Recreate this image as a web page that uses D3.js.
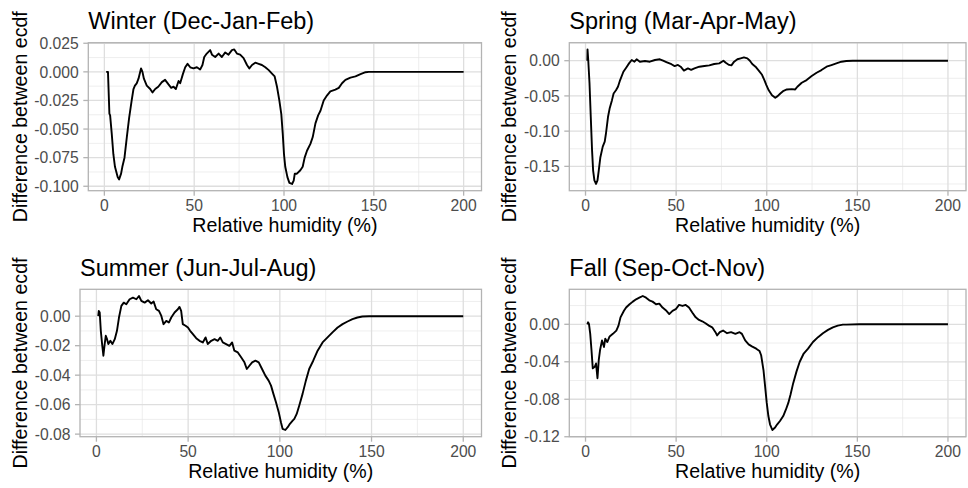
<!DOCTYPE html>
<html>
<head>
<meta charset="utf-8">
<script src="https://cdn.jsdelivr.net/npm/d3@7"></script>
<style>
  html, body { margin: 0; padding: 0; background: #ffffff; }
  svg { display: block; font-family: "Liberation Sans", Arial, Helvetica, sans-serif; }
</style>
</head>
<body>
<svg id="chart" width="968" height="488"></svg>
<script>
// ---------------- DATA ----------------
const seasonTitles = ["Winter (Dec-Jan-Feb)", "Spring (Mar-Apr-May)", "Summer (Jun-Jul-Aug)", "Fall (Sep-Oct-Nov)"];
const xAxisTitle = "Relative humidity (%)";
const yAxisTitle = "Difference between ecdf";

const xTickValues = [0, 50, 100, 150, 200];
const xTickLabels = ["0", "50", "100", "150", "200"];

const winterTicks = [0.025, 0, -0.025, -0.05, -0.075, -0.1];
const winterTickLabels = ["0.025", "0.000", "-0.025", "-0.050", "-0.075", "-0.100"];
const springTicks = [0, -0.05, -0.1, -0.15];
const springTickLabels = ["0.00", "-0.05", "-0.10", "-0.15"];
const summerTicks = [0, -0.02, -0.04, -0.06, -0.08];
const summerTickLabels = ["0.00", "-0.02", "-0.04", "-0.06", "-0.08"];
const fallTicks = [0, -0.04, -0.08, -0.12];
const fallTickLabels = ["0.00", "-0.04", "-0.08", "-0.12"];

// [relative humidity, difference between ecdf]
const winterData = [
  [1,0],[2,0],[2.8,-0.0366],[3.2,-0.038],[4.1,-0.054],[5,-0.072],[5.9,-0.083],[7.4,-0.092],[8.2,-0.094],
  [9.3,-0.089],[10,-0.083],[11.2,-0.075],[12.5,-0.057],[13.8,-0.040],[15.2,-0.025],[16.2,-0.015],[17,-0.012],
  [18,-0.010],[19,-0.006],[20.4,0.003],[21.2,0],[22,-0.006],[23.6,-0.012],[25.5,-0.015],[26.8,-0.018],
  [28.3,-0.015],[30,-0.013],[32,-0.009],[33.8,-0.007],[35.7,-0.011],[37.2,-0.014],[38.5,-0.013],[39.8,-0.015],
  [41.3,-0.008],[42.2,-0.010],[43.7,-0.002],[45,0.004],[46.3,0.007],[47.8,0.004],[49.6,0.003],[51.5,0.004],
  [53.3,0.002],[54.6,0.006],[55.6,0.013],[57,0.016],[58.9,0.019],[59.9,0.015],[61.7,0.013],[63.6,0.016],
  [65.4,0.013],[67.3,0.017],[69.1,0.015],[71,0.019],[72.3,0.0196],[73.8,0.016],[75.6,0.015],[77.5,0.012],
  [79.4,0.006],[80.7,0.003],[82.2,0.006],[84,0.008],[85.9,0.007],[87.7,0.006],[89.6,0.004],[91.5,0.0015],
  [93.3,-0.0015],[94.8,-0.004],[96.1,-0.013],[97.4,-0.025],[98.5,-0.037],[99.3,-0.054],[100,-0.072],
  [100.7,-0.083],[101.9,-0.092],[103,-0.097],[104.5,-0.098],[105.4,-0.095],[106,-0.089],[107.2,-0.089],
  [109.1,-0.086],[110.4,-0.083],[111.5,-0.075],[112.8,-0.069],[114.7,-0.063],[116,-0.057],[117.5,-0.045],
  [119,-0.038],[120.3,-0.034],[122.1,-0.025],[124,-0.0205],[125.8,-0.017],[128.6,-0.0155],[130.5,-0.014],
  [132.3,-0.010],[134.2,-0.007],[137,-0.005],[139.8,-0.004],[142.6,-0.002],[145.4,-0.0003],[147.2,0],[200,0]
];

const springData = [
  [1,0],[1.1,0.016],[1.5,0.001],[2.2,-0.032],[2.9,-0.080],[3.6,-0.127],[4.2,-0.156],[4.9,-0.170],[5.8,-0.175],
  [6.6,-0.170],[7.3,-0.156],[8.2,-0.137],[9.5,-0.122],[10.6,-0.115],[11.3,-0.103],[12.4,-0.080],[13.3,-0.068],
  [14.6,-0.056],[15.5,-0.0465],[16.8,-0.042],[17.9,-0.037],[19.1,-0.0275],[20.9,-0.0157],[22.8,-0.0085],
  [24,-0.0038],[25.5,0.001],[27,-0.0014],[28.2,0.002],[30,-0.0014],[32.8,-0.0005],[35.5,-0.0014],[38.3,0.001],
  [41,0.002],[42.8,0],[44.6,-0.002],[47.4,-0.005],[49.2,-0.0076],[51,-0.006],[52.5,-0.0085],[54.3,-0.014],
  [56.5,-0.011],[58.3,-0.013],[60.1,-0.011],[62.8,-0.0085],[65.6,-0.0076],[68.3,-0.0066],[71,-0.0047],
  [73.8,-0.0038],[76.1,0],[77.4,-0.003],[79.2,-0.006],[80.5,-0.0066],[82,-0.0014],[83.8,0.002],[85.6,0.0033],
  [87.4,0.0047],[89.3,0.0033],[90.7,0],[92,-0.0047],[93.8,-0.0085],[95.6,-0.014],[97.4,-0.020],[98.7,-0.0275],
  [99.8,-0.0346],[101.1,-0.042],[102.9,-0.049],[104.7,-0.0527],[106,-0.0503],[107.5,-0.0465],[109.3,-0.0427],
  [111.1,-0.0408],[113.8,-0.0403],[115.7,-0.0408],[116.9,-0.037],[119.3,-0.0313],[122,-0.0275],[124.8,-0.0218],
  [127.5,-0.0171],[130.2,-0.0133],[133,-0.0085],[135.7,-0.0062],[138.4,-0.0038],[141.2,-0.0014],
  [143.9,-0.0005],[147.5,0],[200,0]
];

const summerData = [
  [1,0],[1.3,0.0036],[1.8,0.0025],[2.4,-0.0099],[3.1,-0.0189],[3.8,-0.0268],[4.5,-0.0189],[5.1,-0.0133],
  [5.8,-0.0156],[6.5,-0.0189],[7.6,-0.0167],[8.7,-0.0189],[10,-0.0156],[11.2,-0.0099],[12.3,-0.0009],
  [13.6,0.007],[14.9,0.0092],[16.3,0.0081],[18.1,0.0115],[19.9,0.0126],[21.8,0.0115],[23.2,0.0137],
  [24.5,0.0104],[26.3,0.0092],[28.1,0.0108],[29.9,0.0086],[31.2,0.0099],[32.6,0.0047],[34.1,0.0036],
  [35.4,0.0002],[36.6,-0.0054],[38.1,-0.0032],[39.5,-0.0043],[40.8,-0.0009],[42.6,0.0025],[44.4,0.0047],
  [45.3,0.0063],[46.2,0.0036],[47.1,-0.0054],[48.6,-0.0065],[49.9,-0.0077],[51.1,-0.0099],[52.6,-0.0122],
  [54.4,-0.0149],[56.2,-0.0167],[58,-0.0178],[59.5,-0.0144],[60.7,-0.0189],[62.6,-0.0167],[64.4,-0.0156],
  [66.2,-0.0167],[67.5,-0.0144],[68.9,-0.0178],[70.7,-0.0189],[72.5,-0.0201],[74,-0.0178],[75.2,-0.0234],
  [77.1,-0.0246],[78.9,-0.0279],[80.7,-0.0313],[82,-0.0358],[83.4,-0.0336],[84.9,-0.0313],[86.7,-0.0302],
  [88.5,-0.0313],[90.3,-0.0358],[92.1,-0.0403],[93.9,-0.0437],[95.2,-0.0471],[96.5,-0.0527],[97.9,-0.0584],
  [99.4,-0.0651],[100.6,-0.0719],[101.5,-0.0764],[103,-0.0772],[104.3,-0.0753],[105.5,-0.073],[107,-0.0708],
  [107.9,-0.0696],[109.2,-0.0663],[110.6,-0.0606],[112.4,-0.0527],[114.2,-0.0437],[116,-0.0358],
  [118.2,-0.0302],[120.6,-0.0234],[123.3,-0.0178],[126,-0.0144],[128.7,-0.011],[131.5,-0.0077],
  [134.2,-0.0054],[136.9,-0.0036],[139.6,-0.002],[142.3,-0.0009],[145,-0.0002],[148.7,0],[200,0]
];

const fallData = [
  [1,0],[1.4,0.0021],[1.9,0.0004],[2.6,-0.0102],[3.3,-0.0277],[4,-0.047],[5.1,-0.0453],[5.8,-0.0418],
  [6.6,-0.0575],[7.3,-0.0382],[8,-0.0277],[9.1,-0.0172],[10.2,-0.0242],[10.9,-0.0154],[12,-0.0189],
  [13.3,-0.013],[15.1,-0.0102],[17,-0.0067],[18.2,-0.0014],[19.3,0.0074],[21.2,0.0144],[22.4,0.0179],
  [24.3,0.0214],[26.1,0.0242],[27.9,0.0267],[29.7,0.0284],[31.6,0.0302],[33.4,0.0284],[35.2,0.0256],
  [37,0.0242],[38.9,0.0214],[40.7,0.0221],[42.5,0.0179],[44.3,0.0151],[46.2,0.0109],[48,0.0144],[49.8,0.0161],
  [51.6,0.0207],[53.5,0.0196],[55.3,0.0207],[57.1,0.0179],[58.9,0.0126],[60.8,0.0074],[62.6,0.0046],
  [64.4,0.0032],[66.2,0.0011],[68.1,-0.0014],[69.9,-0.0032],[71.7,-0.0084],[72.6,-0.0119],[74.1,-0.0084],
  [75.9,-0.0067],[78.1,-0.0095],[80.3,-0.0084],[82.7,-0.0102],[85,-0.0084],[86.3,-0.0102],[88.1,-0.0172],
  [90,-0.0214],[91.8,-0.0235],[94.2,-0.026],[96,-0.0284],[96.9,-0.033],[98.2,-0.0488],[99.1,-0.0663],
  [100,-0.0839],[100.9,-0.0979],[101.8,-0.1067],[103.1,-0.1128],[104.6,-0.1102],[105.8,-0.1067],
  [107.3,-0.1032],[109.1,-0.0979],[110.6,-0.0909],[111.9,-0.0839],[113.1,-0.0751],[114.6,-0.0628],
  [116.4,-0.0505],[118.2,-0.04],[120.4,-0.0312],[122.8,-0.026],[125.5,-0.0189],[128.3,-0.0137],[131,-0.0095],
  [133.8,-0.006],[136.5,-0.0032],[139.2,-0.0014],[142,-0.0004],[143.8,-0.0004],[151,0],[200,0]
];

// ---------------- LAYOUT ----------------
const panels = [
  { title: seasonTitles[0], data: winterData, ticks: winterTicks, labels: winterTickLabels,
    box: { left: 88.3, right: 481.5, top: 42.7, bottom: 190.7 }, titleY: 29, yTitleX: 26.5 },
  { title: seasonTitles[1], data: springData, ticks: springTicks, labels: springTickLabels,
    box: { left: 569.3, right: 966, top: 42.7, bottom: 190.7 }, titleY: 29, yTitleX: 516 },
  { title: seasonTitles[2], data: summerData, ticks: summerTicks, labels: summerTickLabels,
    box: { left: 80, right: 481.5, top: 289.3, bottom: 436.7 }, titleY: 276, yTitleX: 26.5 },
  { title: seasonTitles[3], data: fallData, ticks: fallTicks, labels: fallTickLabels,
    box: { left: 569.3, right: 966, top: 289.3, bottom: 436.7 }, titleY: 276, yTitleX: 516 }
];

const svg = d3.select("#chart");

function expand(ext) {
  const pad = (ext[1] - ext[0]) * 0.05;
  return [ext[0] - pad, ext[1] + pad];
}
function minorTicks(major, domain) {
  const s = Math.abs(major[1] - major[0]);
  const lo = d3.min(major), hi = d3.max(major);
  const out = [];
  for (let v = lo - s / 2; v <= hi + s / 2 + 1e-12; v += s) {
    if (v >= domain[0] && v <= domain[1]) out.push(v);
  }
  return out;
}

panels.forEach(p => {
  const b = p.box;
  const x = d3.scaleLinear().domain(expand(d3.extent(p.data, d => d[0]))).range([b.left, b.right]);
  const y = d3.scaleLinear().domain(expand(d3.extent(p.data, d => d[1]))).range([b.bottom, b.top]);
  const g = svg.append("g");

  // minor grid
  const xMinor = minorTicks(xTickValues, x.domain());
  const yMinor = minorTicks(p.ticks, y.domain());
  g.selectAll(null).data(xMinor).join("line")
    .attr("x1", d => x(d)).attr("x2", d => x(d)).attr("y1", b.top).attr("y2", b.bottom)
    .attr("stroke", "#e6e6e6").attr("stroke-width", 0.7);
  g.selectAll(null).data(yMinor).join("line")
    .attr("y1", d => y(d)).attr("y2", d => y(d)).attr("x1", b.left).attr("x2", b.right)
    .attr("stroke", "#e6e6e6").attr("stroke-width", 0.7);
  // major grid
  g.selectAll(null).data(xTickValues).join("line")
    .attr("x1", d => x(d)).attr("x2", d => x(d)).attr("y1", b.top).attr("y2", b.bottom)
    .attr("stroke", "#dedede").attr("stroke-width", 1.3);
  g.selectAll(null).data(p.ticks).join("line")
    .attr("y1", d => y(d)).attr("y2", d => y(d)).attr("x1", b.left).attr("x2", b.right)
    .attr("stroke", "#dedede").attr("stroke-width", 1.3);

  // data line
  const line = d3.line().x(d => x(d[0])).y(d => y(d[1]));
  g.append("path").datum(p.data).attr("d", line)
    .attr("fill", "none").attr("stroke", "#000000").attr("stroke-width", 1.9)
    .attr("stroke-linejoin", "round");

  // panel border
  g.append("rect").attr("x", b.left).attr("y", b.top)
    .attr("width", b.right - b.left).attr("height", b.bottom - b.top)
    .attr("fill", "none").attr("stroke", "#b3b3b3").attr("stroke-width", 1.3);

  // x axis ticks + labels
  g.selectAll(null).data(xTickValues).join("line")
    .attr("x1", d => x(d)).attr("x2", d => x(d)).attr("y1", b.bottom).attr("y2", b.bottom + 5)
    .attr("stroke", "#b3b3b3").attr("stroke-width", 1.3);
  g.selectAll(null).data(xTickValues).join("text")
    .attr("x", d => x(d)).attr("y", b.bottom + 20.5)
    .attr("text-anchor", "middle").attr("font-size", 15.7).attr("fill", "#4d4d4d")
    .text((d, i) => xTickLabels[i]);

  // y axis ticks + labels
  g.selectAll(null).data(p.ticks).join("line")
    .attr("y1", d => y(d)).attr("y2", d => y(d)).attr("x1", b.left - 5).attr("x2", b.left)
    .attr("stroke", "#b3b3b3").attr("stroke-width", 1.3);
  g.selectAll(null).data(p.ticks).join("text")
    .attr("x", b.left - 9.5).attr("y", d => y(d)).attr("dy", "0.36em")
    .attr("text-anchor", "end").attr("font-size", 15.7).attr("fill", "#4d4d4d")
    .text((d, i) => p.labels[i]);

  // titles
  g.append("text").attr("x", b.left).attr("y", p.titleY)
    .attr("font-size", 23.5).attr("fill", "#000").text(p.title);
  g.append("text").attr("x", (b.left + b.right) / 2).attr("y", b.bottom + 41.5)
    .attr("text-anchor", "middle").attr("font-size", 19.6).attr("fill", "#000").text(xAxisTitle);
  g.append("text")
    .attr("transform", `translate(${p.yTitleX},${(b.top + b.bottom) / 2}) rotate(-90)`)
    .attr("text-anchor", "middle").attr("font-size", 19.6).attr("fill", "#000").text(yAxisTitle);
});
</script>
</body>
</html>
